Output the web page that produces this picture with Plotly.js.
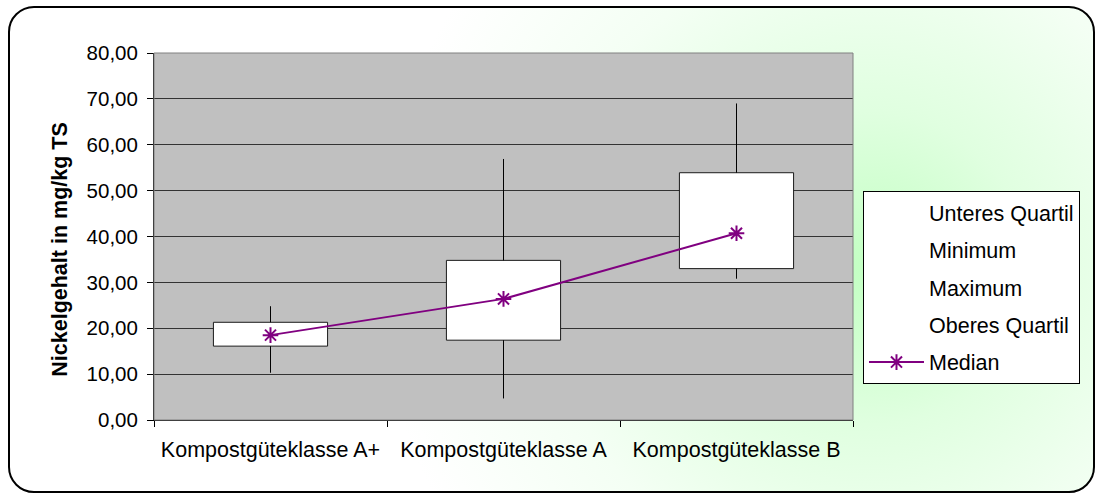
<!DOCTYPE html>
<html>
<head>
<meta charset="utf-8">
<script src="https://cdn.plot.ly/plotly-3.0.1.min.js"></script>
<style>
  html, body { margin: 0; padding: 0; width: 1097px; height: 495px; overflow: hidden; background: #ffffff; }
  #frame {
    position: absolute; left: 8px; top: 6px; width: 1083px; height: 483px;
    border: 2px solid #000; border-radius: 26px;
    background: radial-gradient(circle 560px at 860px 260px, #c2ffc2 0%, #e0ffe0 28%, #f4fff4 58%, #ffffff 88%);
  }
  #chart { position: absolute; left: 0; top: 0; width: 1097px; height: 495px; }
</style>
</head>
<body>
<div id="frame"></div>
<div id="chart"></div>
<script>
const categories = ['Kompostgüteklasse A+', 'Kompostgüteklasse A', 'Kompostgüteklasse B'];
const minimum        = [10.3, 4.7, 30.8];
const unteresQuartil = [16.1, 17.4, 33.0];
const median         = [18.5, 26.4, 40.7];
const oberesQuartil  = [21.3, 34.8, 53.9];
const maximum        = [24.8, 56.9, 69.0];
const yTicks = [0, 10, 20, 30, 40, 50, 60, 70, 80];

const FONT = 'Liberation Sans, Arial, sans-serif';
const invisible = { color: 'rgba(0,0,0,0)', size: 1 };

const traces = [
  {
    type: 'bar', x: categories, base: unteresQuartil,
    y: oberesQuartil.map((q, i) => q - unteresQuartil[i]),
    width: 0.49, marker: { color: '#ffffff', line: { color: '#1a1a1a', width: 1 } },
    showlegend: false, hoverinfo: 'skip'
  },
  {
    type: 'scatter', mode: 'markers', name: 'Unteres Quartil', legendgroup: 'a',
    x: categories, y: unteresQuartil, marker: invisible,
    error_y: { type: 'data', symmetric: false, array: unteresQuartil.map(() => 0),
               arrayminus: unteresQuartil.map((q, i) => q - minimum[i]),
               color: '#000', thickness: 1, width: 0 }
  },
  {
    type: 'scatter', mode: 'markers', name: 'Minimum', legendgroup: 'b',
    x: categories, y: minimum, marker: invisible
  },
  {
    type: 'scatter', mode: 'markers', name: 'Maximum', legendgroup: 'c',
    x: categories, y: maximum, marker: invisible
  },
  {
    type: 'scatter', mode: 'markers', name: 'Oberes Quartil', legendgroup: 'd',
    x: categories, y: oberesQuartil, marker: invisible,
    error_y: { type: 'data', symmetric: false,
               array: oberesQuartil.map((q, i) => maximum[i] - q),
               arrayminus: oberesQuartil.map(() => 0),
               color: '#000', thickness: 1, width: 0 }
  },
  {
    type: 'scatter', mode: 'lines+markers', name: 'Median', legendgroup: 'e',
    x: categories, y: median,
    line: { color: '#800080', width: 2 },
    marker: { symbol: 'asterisk-open', size: 13, color: '#800080', line: { color: '#800080', width: 2 } }
  }
];

const layout = {
  width: 1097, height: 495,
  margin: { l: 154, r: 244, t: 53, b: 74.5 },
  paper_bgcolor: 'rgba(0,0,0,0)',
  plot_bgcolor: '#c0c0c0',
  separators: ',.',
  font: { family: FONT, color: '#000', size: 21 },
  showlegend: true,
  hovermode: 'closest',
  xaxis: {
    type: 'category', tickson: 'boundaries', ticks: 'outside', ticklen: 6, tickcolor: '#000',
    showline: true, linecolor: '#000', linewidth: 1, showgrid: false,
    tickfont: { family: FONT, size: 21.5, color: '#000' }, ticklabelstandoff: 10,
    range: [-0.5, 2.5]
  },
  yaxis: {
    range: [0, 80], tickvals: yTicks, tickformat: '.2f',
    ticks: 'outside', ticklen: 6, tickcolor: '#000',
    showline: true, linecolor: '#000', linewidth: 1,
    showgrid: true, gridcolor: '#333333', gridwidth: 1, zeroline: false,
    tickfont: { family: FONT, size: 20.5, color: '#000' }, ticklabelstandoff: 5
  },
  legend: {
    x: 1.0143, xanchor: 'left', y: 0.6245, yanchor: 'top',
    bgcolor: '#ffffff', bordercolor: '#000', borderwidth: 1,
    font: { family: FONT, size: 21.5, color: '#000' },
    traceorder: 'grouped', tracegroupgap: 6.5, itemwidth: 55
  },
  shapes: [
    { type: 'rect', xref: 'paper', yref: 'paper', x0: 0, x1: 1, y0: 0, y1: 1,
      line: { color: '#808080', width: 1 }, layer: 'above' }
  ],
  annotations: [
    { text: '<b>Nickelgehalt in mg/kg TS</b>', xref: 'paper', yref: 'paper',
      x: -0.1345, y: 0.464, xanchor: 'center', yanchor: 'middle', textangle: -90,
      showarrow: false, font: { family: FONT, size: 21.5, color: '#000' } }
  ]
};

Plotly.newPlot('chart', traces, layout, { displayModeBar: false, responsive: false });
</script>
</body>
</html>
